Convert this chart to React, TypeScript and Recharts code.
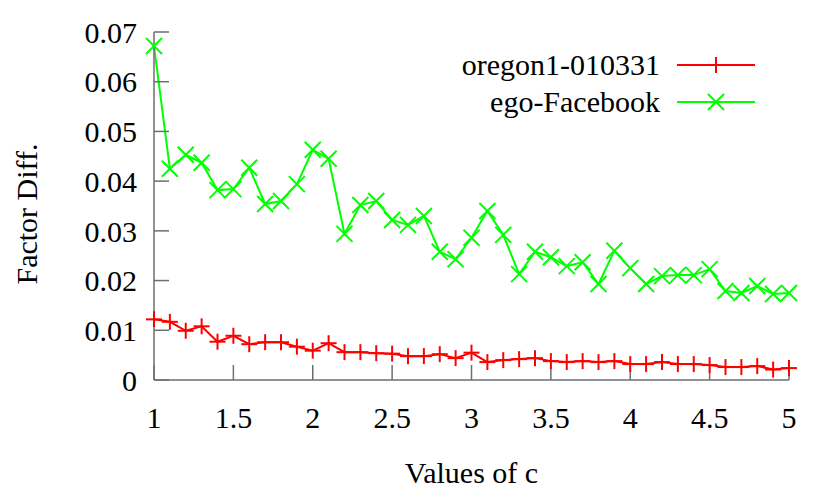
import { LineChart, Line, XAxis, YAxis } from "recharts";

const cValues = [
  1.0, 1.1, 1.2, 1.3, 1.4, 1.5, 1.6, 1.7, 1.8, 1.9, 2.0, 2.1, 2.2, 2.3, 2.4,
  2.5, 2.6, 2.7, 2.8, 2.9, 3.0, 3.1, 3.2, 3.3, 3.4, 3.5, 3.6, 3.7, 3.8, 3.9,
  4.0, 4.1, 4.2, 4.3, 4.4, 4.5, 4.6, 4.7, 4.8, 4.9, 5.0,
];

const oregon = [
  0.0122, 0.0117, 0.0099, 0.0108, 0.0077, 0.0089, 0.0072, 0.0076, 0.0076,
  0.0067, 0.0059, 0.0074, 0.0056, 0.0056, 0.0054, 0.0053, 0.0048, 0.0048,
  0.0052, 0.0044, 0.0055, 0.0036, 0.004, 0.0042, 0.0044, 0.0038, 0.0036,
  0.0038, 0.0036, 0.0038, 0.0032, 0.0032, 0.0036, 0.0032, 0.0032, 0.003,
  0.0026, 0.0026, 0.0028, 0.0021, 0.0024,
];

const facebook = [
  0.0672, 0.0425, 0.0453, 0.0437, 0.0382, 0.0384, 0.0427, 0.0354, 0.036,
  0.0394, 0.0463, 0.0445, 0.0294, 0.0352, 0.036, 0.0322, 0.0312, 0.033,
  0.0258, 0.0243, 0.0286, 0.034, 0.0292, 0.0213, 0.0258, 0.0247, 0.0229,
  0.0237, 0.0193, 0.026, 0.0225, 0.0193, 0.0209, 0.0211, 0.0211, 0.0223,
  0.0179, 0.0175, 0.0189, 0.0173, 0.0175,
];

const xTicks = [1, 1.5, 2, 2.5, 3, 3.5, 4, 4.5, 5];
const yTicks = [0, 0.01, 0.02, 0.03, 0.04, 0.05, 0.06, 0.07];

const data = cValues.map((c, i) => ({ c, oregon: oregon[i], facebook: facebook[i] }));

const FONT = "'Liberation Serif', 'Times New Roman', serif";
const RED = "#ff0000";
const GREEN = "#00ff00";
const FRAME = "#6e6e6e";

const PlusDot = (props: any) => {
  const { cx, cy } = props;
  if (cx == null || cy == null) return null;
  return (
    <g stroke={RED} strokeWidth={2}>
      <line x1={cx - 8} y1={cy} x2={cx + 8} y2={cy} />
      <line x1={cx} y1={cy - 8} x2={cx} y2={cy + 8} />
    </g>
  );
};

const CrossDot = (props: any) => {
  const { cx, cy } = props;
  if (cx == null || cy == null) return null;
  return (
    <g stroke={GREEN} strokeWidth={2}>
      <line x1={cx - 8} y1={cy - 8} x2={cx + 8} y2={cy + 8} />
      <line x1={cx - 8} y1={cy + 8} x2={cx + 8} y2={cy - 8} />
    </g>
  );
};

const tickStyle = { fill: "#000", fontSize: 30, fontFamily: FONT };

export default function App() {
  return (
    <div style={{ position: "absolute", left: 0, top: 0, width: 830, height: 498, background: "#fff" }}>
      <LineChart
        width={830}
        height={498}
        data={data}
        margin={{ top: 32, right: 41, left: 0, bottom: 0 }}
      >
        <XAxis
          xAxisId="b"
          dataKey="c"
          type="number"
          domain={[1, 5]}
          ticks={xTicks}
          height={118}
          tickSize={-15}
          tickMargin={42}
          tick={tickStyle}
          stroke={FRAME}
          strokeWidth={1.5}
          label={{
            content: (p: any) => (
              <text
                x={p.viewBox.x + p.viewBox.width / 2}
                y={483}
                textAnchor="middle"
                fontSize={30}
                fontFamily={FONT}
                fill="#000"
              >
                Values of c
              </text>
            ),
          }}
        />
        <XAxis
          xAxisId="t"
          orientation="top"
          dataKey="c"
          type="number"
          domain={[1, 5]}
          ticks={xTicks}
          height={0}
          tickSize={-15}
          tick={false}
          stroke={FRAME}
          strokeWidth={1.5}
        />
        <YAxis
          yAxisId="l"
          type="number"
          domain={[0, 0.07]}
          ticks={yTicks}
          width={154}
          tickSize={-15}
          tickMargin={32}
          tick={tickStyle}
          stroke={FRAME}
          strokeWidth={1.5}
          label={{
            content: () => (
              <text
                x={37}
                y={214}
                transform="rotate(-90, 37, 214)"
                textAnchor="middle"
                fontSize={30}
                fontFamily={FONT}
                fill="#000"
              >
                Factor Diff.
              </text>
            ),
          }}
        />
        <YAxis
          yAxisId="r"
          orientation="right"
          type="number"
          domain={[0, 0.07]}
          ticks={yTicks}
          width={0}
          tickSize={-15}
          tick={false}
          stroke={FRAME}
          strokeWidth={1.5}
        />
        <Line
          xAxisId="b"
          yAxisId="l"
          dataKey="oregon"
          stroke={RED}
          strokeWidth={2}
          dot={<PlusDot />}
          activeDot={false}
          isAnimationActive={false}
        />
        <Line
          xAxisId="b"
          yAxisId="l"
          dataKey="facebook"
          stroke={GREEN}
          strokeWidth={2}
          dot={<CrossDot />}
          activeDot={false}
          isAnimationActive={false}
        />
      </LineChart>
      <svg
        width={830}
        height={498}
        style={{ position: "absolute", left: 0, top: 0, pointerEvents: "none" }}
      >
        <g fontSize={30} fontFamily={FONT} fill="#000" textAnchor="end">
          <text x={660} y={75}>oregon1-010331</text>
          <text x={660} y={112}>ego-Facebook</text>
        </g>
        <line x1={677} y1={65} x2={755} y2={65} stroke={RED} strokeWidth={2} />
        <PlusDot cx={716} cy={65} />
        <line x1={677} y1={102} x2={755} y2={102} stroke={GREEN} strokeWidth={2} />
        <CrossDot cx={716} cy={102} />
      </svg>
    </div>
  );
}
